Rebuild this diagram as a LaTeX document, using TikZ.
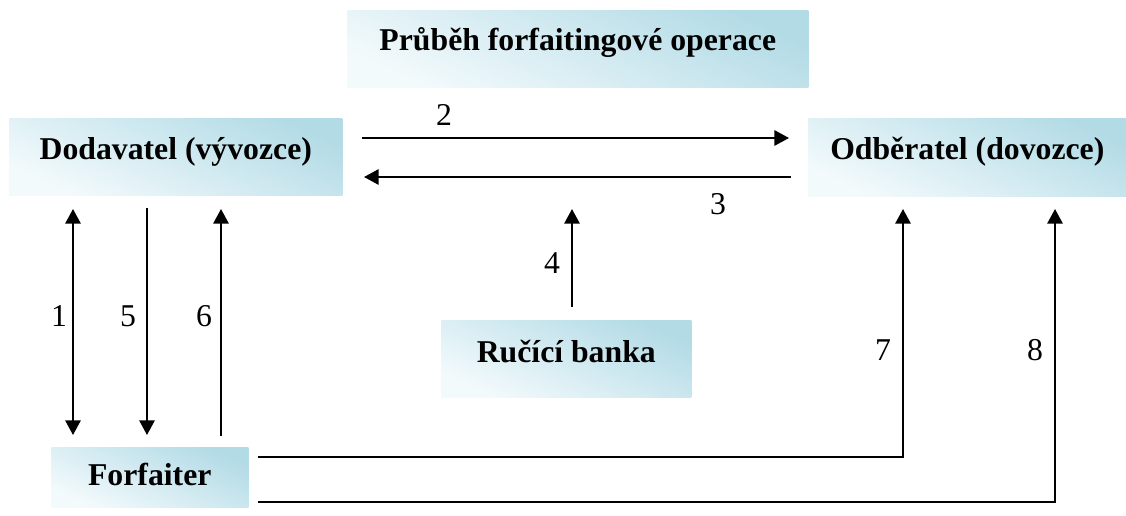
\documentclass[tikz,border=0pt]{standalone}
\usepackage{fontspec}
\setmainfont{Liberation Serif}
\usetikzlibrary{arrows.meta}

\definecolor{boxdark}{HTML}{B3DBE6}
\definecolor{boxlight}{HTML}{F3FAFC}

\tikzset{
  party/.style={anchor=north west, inner sep=0pt, top color=boxdark,
    bottom color=boxlight, shading angle=-25,
    font=\fontsize{23.8}{28}\selectfont\bfseries},
  num/.style={anchor=base, inner sep=0pt, font=\fontsize{23.8}{28}\selectfont},
  flow/.style={line width=1.5pt, -{Triangle[length=11pt,width=11.5pt]}},
  flowboth/.style={line width=1.5pt, {Triangle[length=11pt,width=11.5pt]}-{Triangle[length=11pt,width=11.5pt]}},
  plain/.style={line width=1.5pt}
}

\begin{document}
\begin{tikzpicture}[x=0.75pt,y=-0.75pt]
\useasboundingbox (0,0) rectangle (1126,516);

% boxes
\node[party, minimum width=345.75pt, text height=30pt, text depth=27.75pt] (title) at (347,10) {Průběh forfaitingové operace};
\node[party, minimum width=249.75pt, text height=30.75pt, text depth=27pt] (dod) at (9,118) {Dodavatel (vývozce)};
\node[party, minimum width=238.5pt, text height=30.75pt, text depth=27.75pt] (odb) at (808,118) {Odběratel (dovozce)};
\node[party, minimum width=187.5pt, text height=31.5pt, text depth=26.25pt] (bank) at (441,320) {Ručící banka};
\node[party, minimum width=147.75pt, text height=28.5pt, text depth=16.5pt] (forf) at (51,447) {Forfaiter};

% connector ends
\coordinate (d2) at (362,138);  \coordinate (o2) at (789,138);
\coordinate (o3) at (791,177);  \coordinate (d3) at (364,177);
\coordinate (b4) at (572,307);  \coordinate (t4) at (572,209);
\coordinate (t1) at (73,209);   \coordinate (f1) at (73,435);
\coordinate (t5) at (147,208);  \coordinate (f5) at (147,435);
\coordinate (f6) at (221,436);  \coordinate (t6) at (221,209);
\coordinate (s7) at (258,457);  \coordinate (c7) at (903,457);  \coordinate (t7) at (903,209);
\coordinate (s8) at (258,502);  \coordinate (c8) at (1055,502); \coordinate (t8) at (1055,209);

% connectors
\draw[flow] (d2) -- (o2);
\draw[flow] (o3) -- (d3);
\draw[flow] (b4) -- (t4);
\draw[flowboth] (t1) -- (f1);
\draw[flow] (t5) -- (f5);
\draw[flow] (f6) -- (t6);
\draw[flow] (s7) -- (c7) -- (t7);
\draw[flow] (s8) -- (c8) -- (t8);

% step numbers
\node[num] (n2) at (444,126) {2};
\node[num] (n3) at (718,215) {3};
\node[num] (n4) at (552,274) {4};
\node[num] (n1) at (59,326) {1};
\node[num] (n5) at (128,326) {5};
\node[num] (n6) at (204,326) {6};
\node[num] (n7) at (883,360) {7};
\node[num] (n8) at (1035,360) {8};
\end{tikzpicture}
\end{document}
